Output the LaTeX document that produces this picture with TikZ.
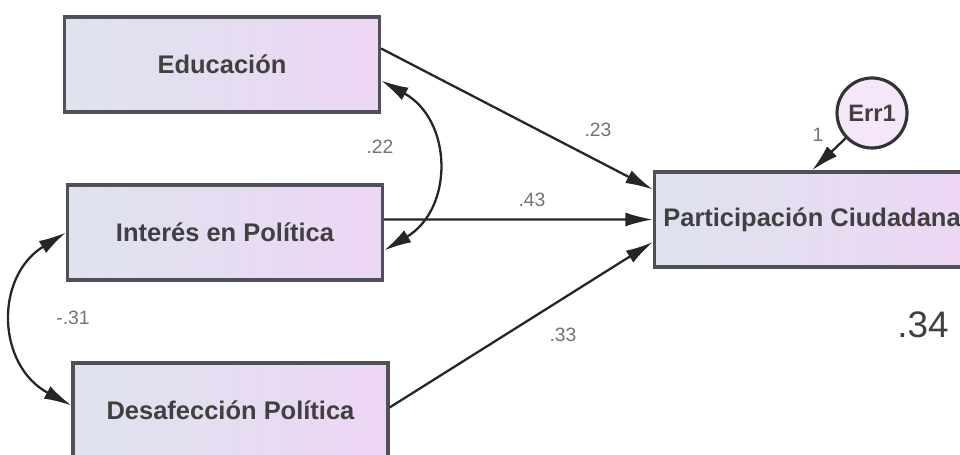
\documentclass[tikz,border=0pt]{standalone}
\usepackage{fontspec}
\setmainfont{Liberation Sans}
\usetikzlibrary{arrows.meta}
\definecolor{boxL}{RGB}{222,227,238}
\definecolor{boxR}{RGB}{238,214,245}
\definecolor{edge}{RGB}{80,80,90}
\begin{document}
\begin{tikzpicture}[
    var/.style={draw=edge,line width=1.8pt,left color=boxL,right color=boxR,
      minimum width=6.3cm,minimum height=1.9cm,inner sep=0pt,
      font=\fontsize{14.5}{17}\selectfont\bfseries,text=black!75},
    err/.style={draw=black!80,line width=1.8pt,circle,fill=boxR!60!white,
      minimum size=1.4cm,inner sep=0pt,font=\fontsize{13.5}{16}\selectfont\bfseries,text=black!75},
    arr/.style={line width=1.3pt,draw=black!85,-{Latex[length=5.5mm,width=2.8mm]}},
    dbl/.style={line width=1.3pt,draw=black!85,{Latex[length=5.5mm,width=2.8mm]}-{Latex[length=5.5mm,width=2.8mm]}},
    coef/.style={text=black!55,font=\fontsize{11}{13}\selectfont}
  ]
  \useasboundingbox (0,0) rectangle (19.2,9.1);
  %% Boxes
  \node[var] (E) at (4.44,7.81) {Educación};
  \node[var] (I) at (4.50,4.45) {Interés en Política};
  \node[var] (D) at (4.61,0.89) {Desafección Política};
  \node[var] (P) at (16.24,4.71) {Participación Ciudadana};
  \node[err] (R) at (17.44,6.84) {Err1};
  %% Paths
  \draw[arr] ([yshift=0.32cm]E.east) -- ([yshift=0.6cm]P.west);
  \draw[arr] ([yshift=0.26cm]I.east) -- (P.west);
  \draw[arr] ([yshift=0.06cm]D.east) -- ([yshift=-0.45cm]P.west);
  \draw[arr] (R) -- (P.north);
  %% Covariances
  \draw[dbl] ([yshift=-0.32cm]E.east) to[bend left=60,looseness=1.23] ([yshift=-0.36cm]I.east);
  \draw[dbl] (I.west) to[bend right=60,looseness=1.25] ([yshift=0.1cm]D.west);
  %% Labels
  \node[coef] (c1) at (11.96,6.50) {.23};
  \node[coef] (c2) at (10.64,5.10) {.43};
  \node[coef] (c3) at (11.26,2.40) {.33};
  \node[coef] (c4) at (7.60,6.16) {.22};
  \node[coef] (c5) at (1.46,2.74) {-.31};
  \node[coef] (c6) at (16.36,6.40) {1};
  \node[text=black!75,font=\fontsize{21}{24}\selectfont] (r2) at (18.46,2.60) {.34};
\end{tikzpicture}
\end{document}
